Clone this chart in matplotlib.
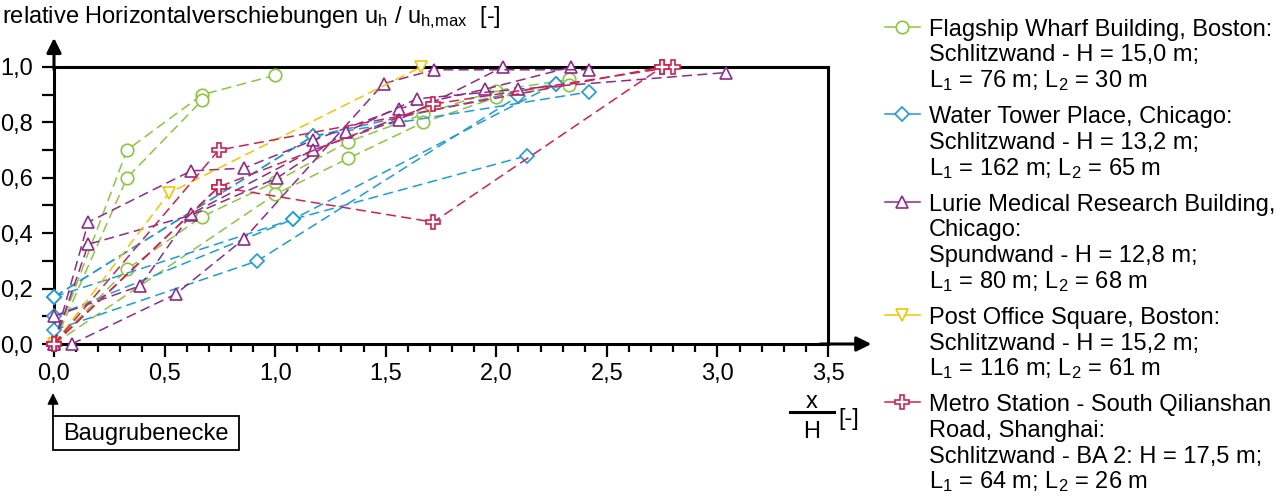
import matplotlib.pyplot as plt
from matplotlib.lines import Line2D
from matplotlib.patches import Rectangle
from matplotlib.ticker import MultipleLocator, FuncFormatter

plt.rcParams['font.family'] = ['Liberation Sans', 'DejaVu Sans']
plt.rcParams['mathtext.fontset'] = 'custom'
plt.rcParams['mathtext.rm'] = 'Liberation Sans'
plt.rcParams['mathtext.it'] = 'Liberation Sans:italic'
plt.rcParams['font.size'] = 17

# ---- data: x/H and u_h/u_h,max per measurement line ----
flagship_x = [[0.0, 0.33, 0.67, 1.0],
              [0.0, 0.33, 0.67],
              [0.0, 0.33, 0.67, 1.0, 1.33, 1.67, 2.0, 2.33],
              [0.0, 1.0, 1.33, 1.67, 2.0, 2.33]]
flagship_y = [[0.0, 0.70, 0.90, 0.97],
              [0.0, 0.60, 0.88],
              [0.0, 0.27, 0.46, 0.585, 0.73, 0.83, 0.915, 0.955],
              [0.0, 0.54, 0.67, 0.80, 0.89, 0.935]]

water_x = [[0.0, 1.17, 2.27],
           [0.0, 1.08, 2.14],
           [0.0, 0.92, 2.10],
           [0.0, 1.17, 2.42],
           [0.0, 1.08, 2.27]]
water_y = [[0.17, 0.75, 0.94],
           [0.10, 0.45, 0.68],
           [0.05, 0.30, 0.895],
           [0.17, 0.75, 0.91],
           [0.17, 0.45, 0.94]]

lurie_x = [[0.0, 0.155, 0.62, 0.86, 1.17, 1.56, 1.95, 2.34],
           [0.0, 0.155, 0.62, 1.01, 1.32, 1.64, 2.10, 3.04],
           [0.0, 0.39, 0.62, 1.17, 1.56, 2.03],
           [0.08, 0.55, 0.86, 1.49, 1.72, 2.42]]
lurie_y = [[0.0, 0.44, 0.625, 0.635, 0.735, 0.85, 0.92, 1.0],
           [0.0, 0.36, 0.465, 0.60, 0.765, 0.885, 0.92, 0.98],
           [0.10, 0.21, 0.47, 0.70, 0.81, 1.0],
           [0.0, 0.18, 0.38, 0.94, 0.99, 0.99]]

post_x = [[0.0, 0.52, 1.66]]
post_y = [[0.0, 0.545, 1.0]]

metro_x = [[0.0, 0.745, 1.715, 2.75],
           [0.0, 0.745, 1.715, 2.80],
           [0.0, 0.745, 2.75]]
metro_y = [[0.0, 0.567, 0.44, 1.0],
           [0.0, 0.567, 0.866, 1.0],
           [0.0, 0.70, 1.0]]

labels = [
    ["Flagship Wharf Building, Boston:", "Schlitzwand - H = 15,0 m;",
     r"$\mathrm{L}_1$ = 76 m; $\mathrm{L}_2$ = 30 m"],
    ["Water Tower Place, Chicago:", "Schlitzwand - H = 13,2 m;",
     r"$\mathrm{L}_1$ = 162 m; $\mathrm{L}_2$ = 65 m"],
    ["Lurie Medical Research Building,", "Chicago:", "Spundwand - H = 12,8 m;",
     r"$\mathrm{L}_1$ = 80 m; $\mathrm{L}_2$ = 68 m"],
    ["Post Office Square, Boston:", "Schlitzwand - H = 15,2 m;",
     r"$\mathrm{L}_1$ = 116 m; $\mathrm{L}_2$ = 61 m"],
    ["Metro Station - South Qilianshan", "Road, Shanghai:",
     "Schlitzwand - BA 2: H = 17,5 m;",
     r"$\mathrm{L}_1$ = 64 m; $\mathrm{L}_2$ = 26 m"],
]

series = [
    (flagship_x, flagship_y, '#8cc63f', 'o'),
    (water_x, water_y, '#1b9dd9', 'D'),
    (lurie_x, lurie_y, '#8e2a8b', '^'),
    (post_x, post_y, '#f5c400', 'v'),
    (metro_x, metro_y, '#d4204f', 'P'),
]

W, H = 1280, 498
fig = plt.figure(figsize=(W / 100, H / 100), dpi=100)
ax = fig.add_axes([54 / W, 1 - 344 / H, (828 - 54) / W, (344 - 67) / H])


def msize(m):
    return {'D': 7.5, 'P': 10}.get(m, 9)


for xs, ys, col, m in series:
    for x, y in zip(xs, ys):
        ax.plot(x, y, color=col, lw=1.1, dashes=(6.5, 3.5), marker=m,
                ms=msize(m), mfc='white', mec=col, mew=1.2, clip_on=False,
                zorder=3)

ax.set_xlim(0, 3.5)
ax.set_ylim(0, 1.0)
for s in ax.spines.values():
    s.set_linewidth(2.2)
ax.xaxis.set_major_locator(MultipleLocator(0.5))
ax.xaxis.set_minor_locator(MultipleLocator(0.1))
ax.yaxis.set_major_locator(MultipleLocator(0.2))
ax.yaxis.set_minor_locator(MultipleLocator(0.1))
fmt = FuncFormatter(lambda v, p: f"{v:.1f}".replace('.', ','))
ax.xaxis.set_major_formatter(fmt)
ax.yaxis.set_major_formatter(fmt)
ax.tick_params(which='major', length=9, width=1.6, labelsize=17)
ax.tick_params(axis='x', which='major', pad=5)
ax.tick_params(axis='y', which='major', pad=6)
ax.tick_params(axis='x', which='minor', length=6, width=1.6)
ax.tick_params(axis='y', which='minor', length=9, width=1.6)

# axis arrows
arr = dict(arrowstyle='-|>', color='k', lw=2.2, mutation_scale=22,
           shrinkA=0, shrinkB=0)
ax.annotate('', xy=(0, 1.105), xytext=(0, 0.99), xycoords='axes fraction',
            arrowprops=arr, annotation_clip=False)
ax.annotate('', xy=(1.056, 0), xytext=(0.99, 0), xycoords='axes fraction',
            arrowprops=arr, annotation_clip=False)


def fx(px):
    return px / W


def fy(py):
    return 1 - py / H


fig.text(fx(2), fy(23),
         r"relative Horizontalverschiebungen $\mathrm{u}_\mathrm{h}$ / "
         r"$\mathrm{u}_\mathrm{h{,}max}$  [-]", va='baseline', ha='left')

# x/H label
fig.text(fx(812), fy(408), "x", ha='center', va='baseline')
fig.add_artist(Line2D([fx(790), fx(834)], [fy(412), fy(412)], color='k',
                      lw=2.2))
fig.text(fx(812), fy(438), "H", ha='center', va='baseline')
fig.text(fx(838), fy(425), "[-]", ha='left', va='baseline')

# Baugrubenecke
fig.add_artist(Rectangle((fx(53), fy(450)), fx(239) - fx(53),
                         fy(416) - fy(450), fill=False, lw=1.3, ec='k'))
fig.text(fx(63), fy(440), "Baugrubenecke", ha='left', va='baseline')
fig.add_artist(Line2D([fx(53), fx(53)], [fy(416), fy(402)], color='k', lw=1.3))
ax.annotate('', xy=(fx(53), fy(393)), xytext=(fx(53), fy(404)),
            xycoords='figure fraction',
            arrowprops=dict(arrowstyle='-|>', color='k', lw=1.3,
                            mutation_scale=16, shrinkA=0, shrinkB=0),
            annotation_clip=False)

# legend drawn by hand
row = 26.7
for (xs, ys, col, m), lines in zip(series, labels):
    fig.add_artist(Line2D([fx(885), fx(920)], [fy(row), fy(row)], color=col,
                          lw=1.1))
    fig.add_artist(Line2D([fx(902)], [fy(row)], color=col, marker=m,
                          ms=msize(m), mfc='white', mec=col, mew=1.2))
    for t in lines:
        fig.text(fx(929), fy(row + 9), t, ha='left', va='baseline')
        row += 25.8
    row += 10

fig.savefig("out.png", dpi=100)
